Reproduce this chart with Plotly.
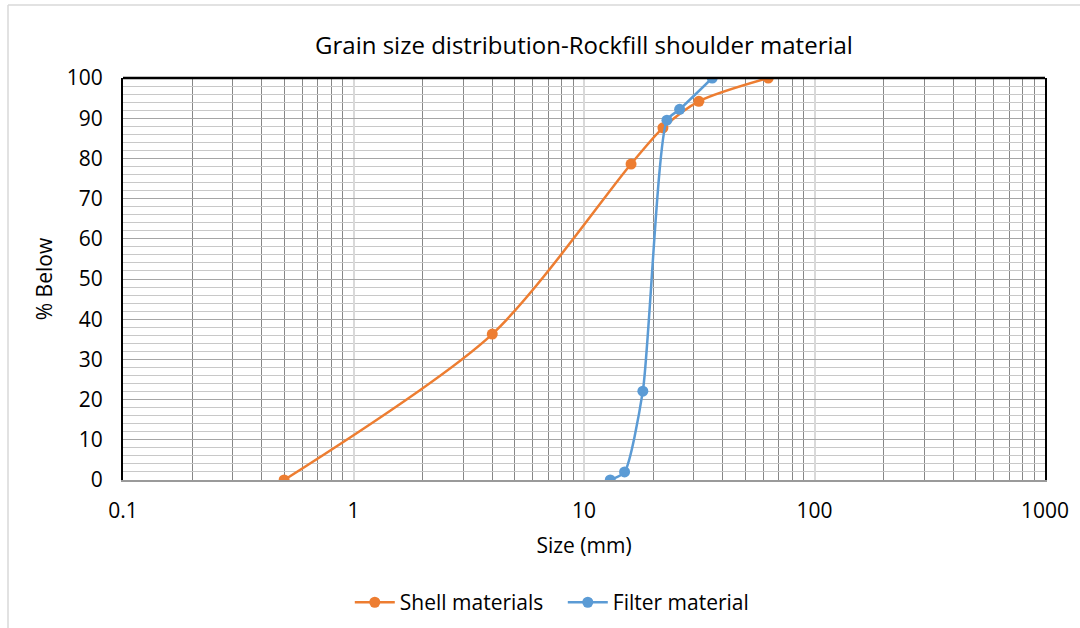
import plotly.graph_objects as go

# Data
shell_size = [0.5, 4.0, 16.0, 22.0, 31.5, 63.0]
shell_pct = [0, 36.3, 78.6, 87.6, 94.2, 100]
filter_size = [13.0, 15.0, 18.0, 22.9, 26.0, 36.0]
filter_pct = [0, 2.0, 22.1, 89.5, 92.2, 100]
x_ticks = [0.1, 1, 10, 100, 1000]
x_tick_labels = ["0.1", "1", "10", "100", "1000"]

FONT = "Open Sans, sans-serif"

fig = go.Figure()
fig.add_trace(go.Scatter(
    x=shell_size, y=shell_pct, name="Shell materials", mode="lines+markers",
    line=dict(color="#ED7D31", width=2.5, shape="spline", smoothing=0.8),
    marker=dict(color="#ED7D31", size=11),
))
fig.add_trace(go.Scatter(
    x=filter_size, y=filter_pct, name="Filter material", mode="lines+markers",
    line=dict(color="#5B9BD5", width=2.5, shape="spline", smoothing=0.6),
    marker=dict(color="#5B9BD5", size=11),
))

fig.update_layout(
    width=1080, height=628,
    margin=dict(l=123, r=35, t=78, b=148, autoexpand=False),
    paper_bgcolor="white", plot_bgcolor="white",
    font=dict(family=FONT, size=21, color="#000000"),
    title=dict(text="Grain size distribution-Rockfill shoulder material",
               x=0.5, xanchor="center", y=1 - 46 / 628, yanchor="middle",
               xref="paper", font=dict(size=24, color="#000000")),
    legend=dict(orientation="h", x=0.477, xanchor="center", y=-0.305, yanchor="middle",
                font=dict(size=21), entrywidth=158, entrywidthmode="pixels",
                itemwidth=40, tracegroupgap=0),
    showlegend=True,
)

fig.update_xaxes(
    type="log", range=[-1, 3], tickvals=x_ticks, ticktext=x_tick_labels,
    showgrid=True, gridcolor="#d9d9d9", gridwidth=1.5,
    minor=dict(dtick="D1", showgrid=True, gridcolor="#878787", gridwidth=1.2, ticks=""),
    showline=True, linecolor="#9a9a9a", linewidth=2, mirror=False,
    ticks="", ticklen=0, zeroline=False, ticklabelstandoff=11, automargin=False,
    title=dict(text="Size (mm)", font=dict(size=21), standoff=15),
    tickfont=dict(size=21),
)
fig.update_yaxes(
    range=[0, 100], dtick=10,
    showgrid=True, gridcolor="#a6a6a6", gridwidth=1,
    minor=dict(dtick=2, showgrid=True, gridcolor="#c8c8c8", gridwidth=1),
    showline=True, linecolor="#000000", linewidth=2, mirror=True,
    ticks="", zeroline=False, ticklabelstandoff=14, automargin=False,
    title=dict(text="% Below", font=dict(size=21), standoff=8),
    tickfont=dict(size=21),
)

# top border of plot area and outer chart frame
fig.add_shape(type="line", xref="paper", yref="paper", x0=0, x1=1, y0=1, y1=1,
              line=dict(color="#000000", width=2.5), layer="above")
fig.add_shape(type="line", xref="paper", yref="paper",
              x0=-115 / 922, x1=-115 / 922, y0=1 + 73 / 402, y1=-1,
              line=dict(color="#d9d9d9", width=1.5))
fig.add_shape(type="line", xref="paper", yref="paper",
              x0=-115 / 922, x1=2, y0=1 + 73 / 402, y1=1 + 73 / 402,
              line=dict(color="#d9d9d9", width=1.5))

fig.write_html("out.html")
